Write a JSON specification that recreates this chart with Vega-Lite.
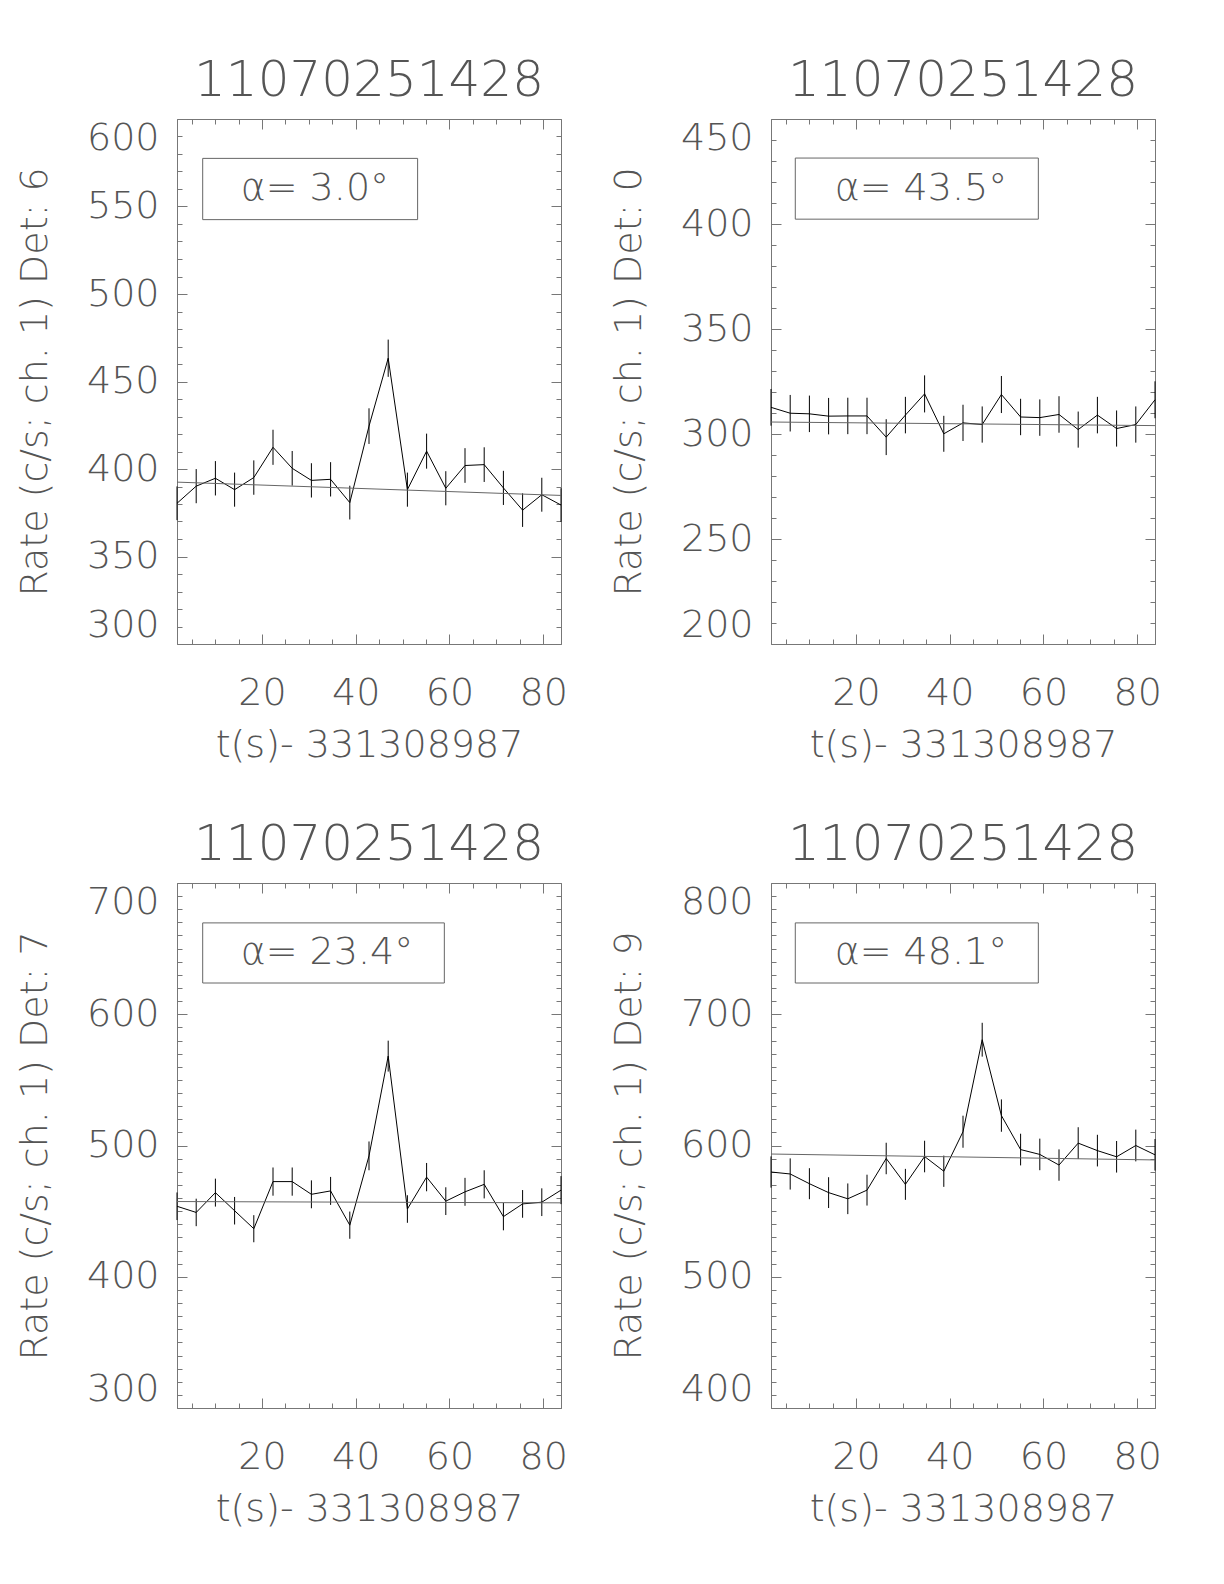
{
  "$schema": "https://vega.github.io/schema/vega-lite/v6.json",
  "background": "white",
  "padding": {"left": 16, "top": 55, "right": 5, "bottom": 5},
  "config": {
    "view": {"stroke": null},
    "font": "DejaVu Sans",
    "axis": {"grid": false, "domainColor": "#777", "tickColor": "#777", "domainWidth": 1, "tickWidth": 1,
      "labelFont": "DejaVu Sans", "labelFontWeight": 200, "labelFontSize": 38, "labelColor": "#555",
      "titleFont": "DejaVu Sans", "titleFontWeight": 200, "titleFontSize": 38, "titleColor": "#555"},
    "title": {"font": "DejaVu Sans", "fontSize": 50, "fontWeight": 200, "color": "#555", "offset": 13, "anchor": "middle"}
  },
  "datasets": {
    "lc": [
      {"det": 6, "t": 1.87, "rate": 380.4, "err": 9.64},
      {"det": 6, "t": 5.966, "rate": 390.2, "err": 9.76},
      {"det": 6, "t": 10.062, "rate": 394.7, "err": 9.82},
      {"det": 6, "t": 14.158, "rate": 388.2, "err": 9.74},
      {"det": 6, "t": 18.254, "rate": 395.1, "err": 9.82},
      {"det": 6, "t": 22.35, "rate": 412.4, "err": 10.03},
      {"det": 6, "t": 26.446, "rate": 400.4, "err": 9.89},
      {"det": 6, "t": 30.542, "rate": 393.5, "err": 9.80},
      {"det": 6, "t": 34.638, "rate": 394.1, "err": 9.81},
      {"det": 6, "t": 38.734, "rate": 380.8, "err": 9.64},
      {"det": 6, "t": 42.83, "rate": 424.5, "err": 10.18},
      {"det": 6, "t": 46.926, "rate": 463.3, "err": 10.64},
      {"det": 6, "t": 51.022, "rate": 388.2, "err": 9.74},
      {"det": 6, "t": 55.118, "rate": 410.2, "err": 10.01},
      {"det": 6, "t": 59.214, "rate": 389.0, "err": 9.75},
      {"det": 6, "t": 63.31, "rate": 402.0, "err": 9.91},
      {"det": 6, "t": 67.406, "rate": 402.5, "err": 9.91},
      {"det": 6, "t": 71.502, "rate": 389.2, "err": 9.75},
      {"det": 6, "t": 75.598, "rate": 376.5, "err": 9.59},
      {"det": 6, "t": 79.694, "rate": 385.3, "err": 9.70},
      {"det": 6, "t": 83.79, "rate": 379.4, "err": 9.62},
      {"det": 0, "t": 1.87, "rate": 312.7, "err": 8.74},
      {"det": 0, "t": 5.966, "rate": 309.9, "err": 8.70},
      {"det": 0, "t": 10.062, "rate": 309.6, "err": 8.69},
      {"det": 0, "t": 14.158, "rate": 308.5, "err": 8.68},
      {"det": 0, "t": 18.254, "rate": 308.6, "err": 8.68},
      {"det": 0, "t": 22.35, "rate": 308.6, "err": 8.68},
      {"det": 0, "t": 26.446, "rate": 298.5, "err": 8.54},
      {"det": 0, "t": 30.542, "rate": 309.0, "err": 8.69},
      {"det": 0, "t": 34.638, "rate": 319.1, "err": 8.83},
      {"det": 0, "t": 38.734, "rate": 300.1, "err": 8.56},
      {"det": 0, "t": 42.83, "rate": 305.3, "err": 8.63},
      {"det": 0, "t": 46.926, "rate": 304.5, "err": 8.62},
      {"det": 0, "t": 51.022, "rate": 318.8, "err": 8.82},
      {"det": 0, "t": 55.118, "rate": 308.1, "err": 8.67},
      {"det": 0, "t": 59.214, "rate": 307.8, "err": 8.67},
      {"det": 0, "t": 63.31, "rate": 309.3, "err": 8.69},
      {"det": 0, "t": 67.406, "rate": 302.1, "err": 8.59},
      {"det": 0, "t": 71.502, "rate": 309.0, "err": 8.69},
      {"det": 0, "t": 75.598, "rate": 302.6, "err": 8.60},
      {"det": 0, "t": 79.694, "rate": 304.5, "err": 8.62},
      {"det": 0, "t": 83.79, "rate": 316.3, "err": 8.79},
      {"det": 7, "t": 1.87, "rate": 453.7, "err": 10.52},
      {"det": 7, "t": 5.966, "rate": 449.0, "err": 10.47},
      {"det": 7, "t": 10.062, "rate": 464.1, "err": 10.64},
      {"det": 7, "t": 14.158, "rate": 450.3, "err": 10.49},
      {"det": 7, "t": 18.254, "rate": 436.6, "err": 10.32},
      {"det": 7, "t": 22.35, "rate": 472.5, "err": 10.74},
      {"det": 7, "t": 26.446, "rate": 472.5, "err": 10.74},
      {"det": 7, "t": 30.542, "rate": 462.8, "err": 10.63},
      {"det": 7, "t": 34.638, "rate": 465.4, "err": 10.66},
      {"det": 7, "t": 38.734, "rate": 439.3, "err": 10.36},
      {"det": 7, "t": 42.83, "rate": 492.1, "err": 10.96},
      {"det": 7, "t": 46.926, "rate": 568.1, "err": 11.78},
      {"det": 7, "t": 51.022, "rate": 451.6, "err": 10.50},
      {"det": 7, "t": 55.118, "rate": 475.9, "err": 10.78},
      {"det": 7, "t": 59.214, "rate": 457.6, "err": 10.57},
      {"det": 7, "t": 63.31, "rate": 464.7, "err": 10.65},
      {"det": 7, "t": 67.406, "rate": 470.4, "err": 10.72},
      {"det": 7, "t": 71.502, "rate": 445.8, "err": 10.43},
      {"det": 7, "t": 75.598, "rate": 455.5, "err": 10.55},
      {"det": 7, "t": 79.694, "rate": 456.8, "err": 10.56},
      {"det": 7, "t": 83.79, "rate": 466.0, "err": 10.67},
      {"det": 9, "t": 1.87, "rate": 579.8, "err": 11.90},
      {"det": 9, "t": 5.966, "rate": 578.3, "err": 11.88},
      {"det": 9, "t": 10.062, "rate": 570.9, "err": 11.81},
      {"det": 9, "t": 14.158, "rate": 564.1, "err": 11.74},
      {"det": 9, "t": 18.254, "rate": 559.4, "err": 11.69},
      {"det": 9, "t": 22.35, "rate": 566.0, "err": 11.76},
      {"det": 9, "t": 26.446, "rate": 590.1, "err": 12.00},
      {"det": 9, "t": 30.542, "rate": 570.4, "err": 11.80},
      {"det": 9, "t": 34.638, "rate": 591.6, "err": 12.02},
      {"det": 9, "t": 38.734, "rate": 580.4, "err": 11.90},
      {"det": 9, "t": 42.83, "rate": 610.5, "err": 12.21},
      {"det": 9, "t": 46.926, "rate": 680.6, "err": 12.89},
      {"det": 9, "t": 51.022, "rate": 622.8, "err": 12.33},
      {"det": 9, "t": 55.118, "rate": 596.9, "err": 12.07},
      {"det": 9, "t": 59.214, "rate": 593.2, "err": 12.03},
      {"det": 9, "t": 63.31, "rate": 585.1, "err": 11.95},
      {"det": 9, "t": 67.406, "rate": 601.8, "err": 12.12},
      {"det": 9, "t": 71.502, "rate": 596.1, "err": 12.06},
      {"det": 9, "t": 75.598, "rate": 591.4, "err": 12.02},
      {"det": 9, "t": 79.694, "rate": 600.0, "err": 12.10},
      {"det": 9, "t": 83.79, "rate": 592.9, "err": 12.03}
    ],
    "fit": [
      {"det": 6, "t": 1.87, "rate": 392.5}, {"det": 6, "t": 83.79, "rate": 384.9},
      {"det": 0, "t": 1.87, "rate": 305.7}, {"det": 0, "t": 83.79, "rate": 304.0},
      {"det": 7, "t": 1.87, "rate": 457.3}, {"det": 7, "t": 83.79, "rate": 456.3},
      {"det": 9, "t": 1.87, "rate": 593.5}, {"det": 9, "t": 83.79, "rate": 589.0}
    ],
    "ann": [
      {"det": 6, "label": "α=  3.0°"},
      {"det": 0, "label": "α=  43.5°"},
      {"det": 7, "label": "α=  23.4°"},
      {"det": 9, "label": "α=  48.1°"}
    ]
  },
  "columns": 2,
  "spacing": {"column": 42, "row": 55},
  "concat": [
    {
      "title": "11070251428", "width": 384, "height": 525,
      "resolve": {"axis": {"x": "independent", "y": "independent"}},
      "layer": [
        {"data": {"name": "lc"}, "transform": [{"filter": "datum.det == 6"}],
         "mark": {"type": "line", "color": "black", "strokeWidth": 1},
         "encoding": {
           "x": {"field": "t", "type": "quantitative", "scale": {"domain": [1.87, 83.79], "nice": false, "zero": false},
                 "axis": {"orient": "bottom", "values": [20, 40, 60, 80], "tickSize": -10, "labelPadding": 40, "labelFlush": false, "labelOverlap": false, "title": "t(s)- 331308987", "titlePadding": 14}},
           "y": {"field": "rate", "type": "quantitative", "scale": {"domain": [300, 600], "nice": false, "zero": false},
                 "axis": {"orient": "left", "values": [300, 350, 400, 450, 500, 550, 600], "tickSize": -10, "labelPadding": 28, "labelFlush": true, "labelOverlap": false, "title": "Rate (c/s; ch. 1) Det: 6", "titlePadding": 32}}}},
        {"data": {"name": "lc"}, "transform": [{"filter": "datum.det == 6"}],
         "mark": {"type": "errorbar", "color": "black", "thickness": 1},
         "encoding": {
           "x": {"field": "t", "type": "quantitative", "scale": {"domain": [1.87, 83.79], "nice": false, "zero": false},
                 "axis": {"orient": "bottom", "values": [5, 10, 15, 25, 30, 35, 45, 50, 55, 65, 70, 75], "tickSize": -5, "labels": false, "domain": false, "title": null}},
           "y": {"field": "rate", "type": "quantitative", "scale": {"domain": [300, 600], "nice": false, "zero": false},
                 "axis": {"orient": "left", "values": [300,310,320,330,340,350,360,370,380,390,400,410,420,430,440,450,460,470,480,490,500,510,520,530,540,550,560,570,580,590,600], "tickSize": -5, "labels": false, "domain": false, "title": null}},
           "yError": {"field": "err"}}},
        {"data": {"name": "fit"}, "transform": [{"filter": "datum.det == 6"}],
         "mark": {"type": "line", "color": "#666", "strokeWidth": 1},
         "encoding": {
           "x": {"field": "t", "type": "quantitative", "scale": {"domain": [1.87, 83.79], "nice": false, "zero": false},
                 "axis": {"orient": "top", "values": [20, 40, 60, 80], "tickSize": -10, "labels": false, "title": null}},
           "y": {"field": "rate", "type": "quantitative", "scale": {"domain": [300, 600], "nice": false, "zero": false},
                 "axis": {"orient": "right", "values": [300, 350, 400, 450, 500, 550, 600], "tickSize": -10, "labels": false, "title": null}}}},
        {"data": {"name": "ann"}, "transform": [{"filter": "datum.det == 6"}],
         "mark": {"type": "rect", "fill": null, "fillOpacity": 0, "stroke": "#666", "strokeWidth": 1},
         "encoding": {
           "x": {"datum": 7.35, "type": "quantitative", "scale": {"domain": [1.87, 83.79], "nice": false, "zero": false},
                 "axis": {"orient": "top", "values": [5, 10, 15, 25, 30, 35, 45, 50, 55, 65, 70, 75], "tickSize": -5, "labels": false, "domain": false, "title": null}},
           "x2": {"datum": 53.2},
           "y": {"datum": 577.5, "type": "quantitative", "scale": {"domain": [300, 600], "nice": false, "zero": false},
                 "axis": {"orient": "right", "values": [300,310,320,330,340,350,360,370,380,390,400,410,420,430,440,450,460,470,480,490,500,510,520,530,540,550,560,570,580,590,600], "tickSize": -5, "labels": false, "domain": false, "title": null}},
           "y2": {"datum": 542.5}}},
        {"data": {"name": "ann"}, "transform": [{"filter": "datum.det == 6"}],
         "mark": {"type": "text", "align": "left", "baseline": "middle", "fontSize": 38, "fontWeight": 200, "font": "DejaVu Sans", "color": "#555"},
         "encoding": {
           "x": {"datum": 15.45, "type": "quantitative", "axis": null},
           "y": {"datum": 560, "type": "quantitative", "axis": null},
           "text": {"field": "label"}}}
      ]
    },
    {
      "title": "11070251428", "width": 384, "height": 525,
      "resolve": {"axis": {"x": "independent", "y": "independent"}},
      "layer": [
        {"data": {"name": "lc"}, "transform": [{"filter": "datum.det == 0"}],
         "mark": {"type": "line", "color": "black", "strokeWidth": 1},
         "encoding": {
           "x": {"field": "t", "type": "quantitative", "scale": {"domain": [1.87, 83.79], "nice": false, "zero": false},
                 "axis": {"orient": "bottom", "values": [20, 40, 60, 80], "tickSize": -10, "labelPadding": 40, "labelFlush": false, "labelOverlap": false, "title": "t(s)- 331308987", "titlePadding": 14}},
           "y": {"field": "rate", "type": "quantitative", "scale": {"domain": [200, 450], "nice": false, "zero": false},
                 "axis": {"orient": "left", "values": [200, 250, 300, 350, 400, 450], "tickSize": -10, "labelPadding": 28, "labelFlush": true, "labelOverlap": false, "title": "Rate (c/s; ch. 1) Det: 0", "titlePadding": 32}}}},
        {"data": {"name": "lc"}, "transform": [{"filter": "datum.det == 0"}],
         "mark": {"type": "errorbar", "color": "black", "thickness": 1},
         "encoding": {
           "x": {"field": "t", "type": "quantitative", "scale": {"domain": [1.87, 83.79], "nice": false, "zero": false},
                 "axis": {"orient": "bottom", "values": [5, 10, 15, 25, 30, 35, 45, 50, 55, 65, 70, 75], "tickSize": -5, "labels": false, "domain": false, "title": null}},
           "y": {"field": "rate", "type": "quantitative", "scale": {"domain": [200, 450], "nice": false, "zero": false},
                 "axis": {"orient": "left", "values": [200,210,220,230,240,250,260,270,280,290,300,310,320,330,340,350,360,370,380,390,400,410,420,430,440,450], "tickSize": -5, "labels": false, "domain": false, "title": null}},
           "yError": {"field": "err"}}},
        {"data": {"name": "fit"}, "transform": [{"filter": "datum.det == 0"}],
         "mark": {"type": "line", "color": "#666", "strokeWidth": 1},
         "encoding": {
           "x": {"field": "t", "type": "quantitative", "scale": {"domain": [1.87, 83.79], "nice": false, "zero": false},
                 "axis": {"orient": "top", "values": [20, 40, 60, 80], "tickSize": -10, "labels": false, "title": null}},
           "y": {"field": "rate", "type": "quantitative", "scale": {"domain": [200, 450], "nice": false, "zero": false},
                 "axis": {"orient": "right", "values": [200, 250, 300, 350, 400, 450], "tickSize": -10, "labels": false, "title": null}}}},
        {"data": {"name": "ann"}, "transform": [{"filter": "datum.det == 0"}],
         "mark": {"type": "rect", "fill": null, "fillOpacity": 0, "stroke": "#666", "strokeWidth": 1},
         "encoding": {
           "x": {"datum": 7.05, "type": "quantitative", "scale": {"domain": [1.87, 83.79], "nice": false, "zero": false},
                 "axis": {"orient": "top", "values": [5, 10, 15, 25, 30, 35, 45, 50, 55, 65, 70, 75], "tickSize": -5, "labels": false, "domain": false, "title": null}},
           "x2": {"datum": 58.9},
           "y": {"datum": 431.4, "type": "quantitative", "scale": {"domain": [200, 450], "nice": false, "zero": false},
                 "axis": {"orient": "right", "values": [200,210,220,230,240,250,260,270,280,290,300,310,320,330,340,350,360,370,380,390,400,410,420,430,440,450], "tickSize": -5, "labels": false, "domain": false, "title": null}},
           "y2": {"datum": 402.3}}},
        {"data": {"name": "ann"}, "transform": [{"filter": "datum.det == 0"}],
         "mark": {"type": "text", "align": "left", "baseline": "middle", "fontSize": 38, "fontWeight": 200, "font": "DejaVu Sans", "color": "#555"},
         "encoding": {
           "x": {"datum": 15.45, "type": "quantitative", "axis": null},
           "y": {"datum": 416.85, "type": "quantitative", "axis": null},
           "text": {"field": "label"}}}
      ]
    },
    {
      "title": "11070251428", "width": 384, "height": 525,
      "resolve": {"axis": {"x": "independent", "y": "independent"}},
      "layer": [
        {"data": {"name": "lc"}, "transform": [{"filter": "datum.det == 7"}],
         "mark": {"type": "line", "color": "black", "strokeWidth": 1},
         "encoding": {
           "x": {"field": "t", "type": "quantitative", "scale": {"domain": [1.87, 83.79], "nice": false, "zero": false},
                 "axis": {"orient": "bottom", "values": [20, 40, 60, 80], "tickSize": -10, "labelPadding": 40, "labelFlush": false, "labelOverlap": false, "title": "t(s)- 331308987", "titlePadding": 14}},
           "y": {"field": "rate", "type": "quantitative", "scale": {"domain": [300, 700], "nice": false, "zero": false},
                 "axis": {"orient": "left", "values": [300, 400, 500, 600, 700], "tickSize": -10, "labelPadding": 28, "labelFlush": true, "labelOverlap": false, "title": "Rate (c/s; ch. 1) Det: 7", "titlePadding": 32}}}},
        {"data": {"name": "lc"}, "transform": [{"filter": "datum.det == 7"}],
         "mark": {"type": "errorbar", "color": "black", "thickness": 1},
         "encoding": {
           "x": {"field": "t", "type": "quantitative", "scale": {"domain": [1.87, 83.79], "nice": false, "zero": false},
                 "axis": {"orient": "bottom", "values": [5, 10, 15, 25, 30, 35, 45, 50, 55, 65, 70, 75], "tickSize": -5, "labels": false, "domain": false, "title": null}},
           "y": {"field": "rate", "type": "quantitative", "scale": {"domain": [300, 700], "nice": false, "zero": false},
                 "axis": {"orient": "left", "values": [300,310,320,330,340,350,360,370,380,390,400,410,420,430,440,450,460,470,480,490,500,510,520,530,540,550,560,570,580,590,600,610,620,630,640,650,660,670,680,690,700], "tickSize": -5, "labels": false, "domain": false, "title": null}},
           "yError": {"field": "err"}}},
        {"data": {"name": "fit"}, "transform": [{"filter": "datum.det == 7"}],
         "mark": {"type": "line", "color": "#666", "strokeWidth": 1},
         "encoding": {
           "x": {"field": "t", "type": "quantitative", "scale": {"domain": [1.87, 83.79], "nice": false, "zero": false},
                 "axis": {"orient": "top", "values": [20, 40, 60, 80], "tickSize": -10, "labels": false, "title": null}},
           "y": {"field": "rate", "type": "quantitative", "scale": {"domain": [300, 700], "nice": false, "zero": false},
                 "axis": {"orient": "right", "values": [300, 400, 500, 600, 700], "tickSize": -10, "labels": false, "title": null}}}},
        {"data": {"name": "ann"}, "transform": [{"filter": "datum.det == 7"}],
         "mark": {"type": "rect", "fill": null, "fillOpacity": 0, "stroke": "#666", "strokeWidth": 1},
         "encoding": {
           "x": {"datum": 7.35, "type": "quantitative", "scale": {"domain": [1.87, 83.79], "nice": false, "zero": false},
                 "axis": {"orient": "top", "values": [5, 10, 15, 25, 30, 35, 45, 50, 55, 65, 70, 75], "tickSize": -5, "labels": false, "domain": false, "title": null}},
           "x2": {"datum": 58.9},
           "y": {"datum": 669.6, "type": "quantitative", "scale": {"domain": [300, 700], "nice": false, "zero": false},
                 "axis": {"orient": "right", "values": [300,310,320,330,340,350,360,370,380,390,400,410,420,430,440,450,460,470,480,490,500,510,520,530,540,550,560,570,580,590,600,610,620,630,640,650,660,670,680,690,700], "tickSize": -5, "labels": false, "domain": false, "title": null}},
           "y2": {"datum": 623.8}}},
        {"data": {"name": "ann"}, "transform": [{"filter": "datum.det == 7"}],
         "mark": {"type": "text", "align": "left", "baseline": "middle", "fontSize": 38, "fontWeight": 200, "font": "DejaVu Sans", "color": "#555"},
         "encoding": {
           "x": {"datum": 15.45, "type": "quantitative", "axis": null},
           "y": {"datum": 646.7, "type": "quantitative", "axis": null},
           "text": {"field": "label"}}}
      ]
    },
    {
      "title": "11070251428", "width": 384, "height": 525,
      "resolve": {"axis": {"x": "independent", "y": "independent"}},
      "layer": [
        {"data": {"name": "lc"}, "transform": [{"filter": "datum.det == 9"}],
         "mark": {"type": "line", "color": "black", "strokeWidth": 1},
         "encoding": {
           "x": {"field": "t", "type": "quantitative", "scale": {"domain": [1.87, 83.79], "nice": false, "zero": false},
                 "axis": {"orient": "bottom", "values": [20, 40, 60, 80], "tickSize": -10, "labelPadding": 40, "labelFlush": false, "labelOverlap": false, "title": "t(s)- 331308987", "titlePadding": 14}},
           "y": {"field": "rate", "type": "quantitative", "scale": {"domain": [400, 800], "nice": false, "zero": false},
                 "axis": {"orient": "left", "values": [400, 500, 600, 700, 800], "tickSize": -10, "labelPadding": 28, "labelFlush": true, "labelOverlap": false, "title": "Rate (c/s; ch. 1) Det: 9", "titlePadding": 32}}}},
        {"data": {"name": "lc"}, "transform": [{"filter": "datum.det == 9"}],
         "mark": {"type": "errorbar", "color": "black", "thickness": 1},
         "encoding": {
           "x": {"field": "t", "type": "quantitative", "scale": {"domain": [1.87, 83.79], "nice": false, "zero": false},
                 "axis": {"orient": "bottom", "values": [5, 10, 15, 25, 30, 35, 45, 50, 55, 65, 70, 75], "tickSize": -5, "labels": false, "domain": false, "title": null}},
           "y": {"field": "rate", "type": "quantitative", "scale": {"domain": [400, 800], "nice": false, "zero": false},
                 "axis": {"orient": "left", "values": [400,410,420,430,440,450,460,470,480,490,500,510,520,530,540,550,560,570,580,590,600,610,620,630,640,650,660,670,680,690,700,710,720,730,740,750,760,770,780,790,800], "tickSize": -5, "labels": false, "domain": false, "title": null}},
           "yError": {"field": "err"}}},
        {"data": {"name": "fit"}, "transform": [{"filter": "datum.det == 9"}],
         "mark": {"type": "line", "color": "#666", "strokeWidth": 1},
         "encoding": {
           "x": {"field": "t", "type": "quantitative", "scale": {"domain": [1.87, 83.79], "nice": false, "zero": false},
                 "axis": {"orient": "top", "values": [20, 40, 60, 80], "tickSize": -10, "labels": false, "title": null}},
           "y": {"field": "rate", "type": "quantitative", "scale": {"domain": [400, 800], "nice": false, "zero": false},
                 "axis": {"orient": "right", "values": [400, 500, 600, 700, 800], "tickSize": -10, "labels": false, "title": null}}}},
        {"data": {"name": "ann"}, "transform": [{"filter": "datum.det == 9"}],
         "mark": {"type": "rect", "fill": null, "fillOpacity": 0, "stroke": "#666", "strokeWidth": 1},
         "encoding": {
           "x": {"datum": 7.05, "type": "quantitative", "scale": {"domain": [1.87, 83.79], "nice": false, "zero": false},
                 "axis": {"orient": "top", "values": [5, 10, 15, 25, 30, 35, 45, 50, 55, 65, 70, 75], "tickSize": -5, "labels": false, "domain": false, "title": null}},
           "x2": {"datum": 58.9},
           "y": {"datum": 769.6, "type": "quantitative", "scale": {"domain": [400, 800], "nice": false, "zero": false},
                 "axis": {"orient": "right", "values": [400,410,420,430,440,450,460,470,480,490,500,510,520,530,540,550,560,570,580,590,600,610,620,630,640,650,660,670,680,690,700,710,720,730,740,750,760,770,780,790,800], "tickSize": -5, "labels": false, "domain": false, "title": null}},
           "y2": {"datum": 723.8}}},
        {"data": {"name": "ann"}, "transform": [{"filter": "datum.det == 9"}],
         "mark": {"type": "text", "align": "left", "baseline": "middle", "fontSize": 38, "fontWeight": 200, "font": "DejaVu Sans", "color": "#555"},
         "encoding": {
           "x": {"datum": 15.45, "type": "quantitative", "axis": null},
           "y": {"datum": 746.7, "type": "quantitative", "axis": null},
           "text": {"field": "label"}}}
      ]
    }
  ]
}
